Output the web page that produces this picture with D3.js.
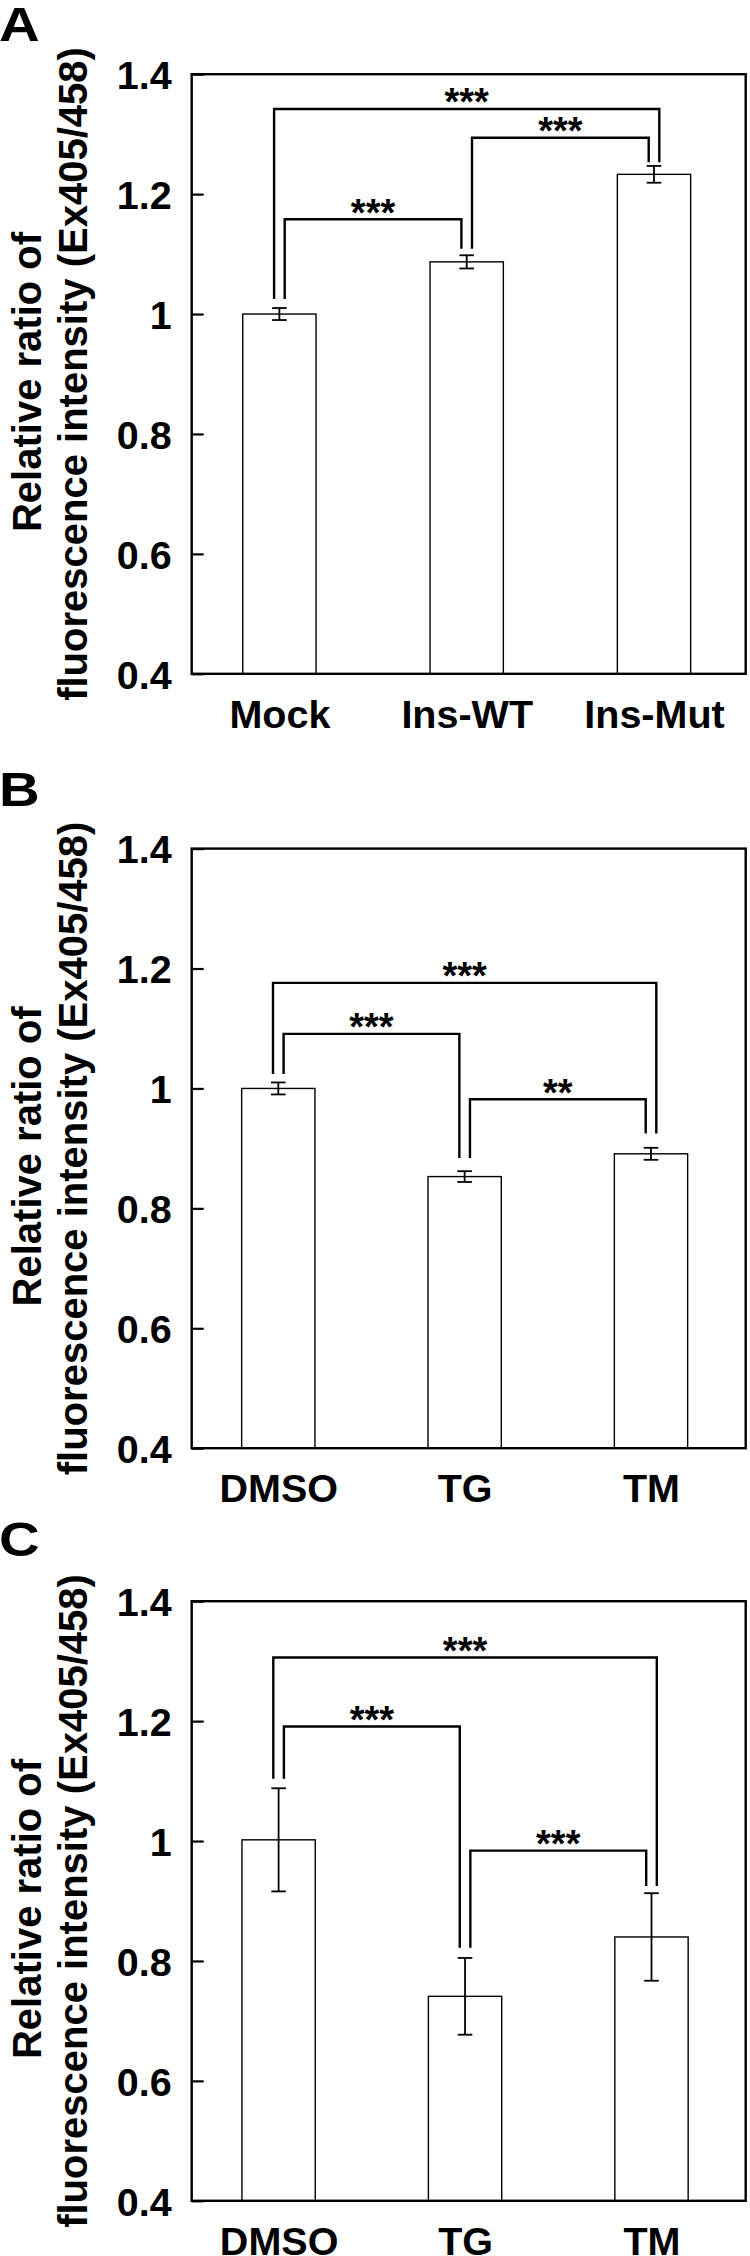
<!DOCTYPE html>
<html>
<head>
<meta charset="utf-8">
<script src="https://cdn.jsdelivr.net/npm/d3@7"></script>
<style>
  html, body { margin: 0; padding: 0; background: #fff; }
  svg { display: block; }
  text { font-family: "Liberation Sans", Arial, sans-serif; font-weight: bold; fill: #000; }
</style>
</head>
<body>
<script>
// ---------------- data ----------------
const panelLabels = ["A", "B", "C"];
const categoriesA = ["Mock", "Ins-WT", "Ins-Mut"];
const categoriesB = ["DMSO", "TG", "TM"];
const categoriesC = ["DMSO", "TG", "TM"];

const meansA = [1.000, 1.087, 1.233];
const errorsA = [0.010, 0.011, 0.014];
const meansB = [1.000, 0.853, 0.891];
const errorsB = [0.010, 0.009, 0.010];
const meansC = [1.002, 0.741, 0.840];
const errorsC = [0.086, 0.064, 0.073];

// significance brackets: [from, to, level (y value), label]
const bracketsA = [[0, 1, 1.158, "***"], [0, 2, 1.342, "***"], [1, 2, 1.294, "***"]];
const bracketsB = [[0, 1, 1.091, "***"], [0, 2, 1.176, "***"], [1, 2, 0.982, "**"]];
const bracketsC = [[0, 1, 1.191, "***"], [0, 2, 1.306, "***"], [1, 2, 0.984, "***"]];
// lower end of bracket legs above each bar (y value)
const legEndsA = [1.025, 1.109, 1.253];
const legEndsB = [1.024, 0.884, 0.925];
const legEndsC = [1.104, 0.822, 0.925];

const yTickValues = [0.4, 0.6, 0.8, 1.0, 1.2, 1.4];
const yTickLabels = ["0.4", "0.6", "0.8", "1", "1.2", "1.4"];
const yDomain = [0.4, 1.4];
const yTitleLines = ["Relative ratio of", "fluorescence intensity (Ex405/458)"];

// ---------------- layout ----------------
const W = 750, H = 2256;
const plotLeft = 191.7, plotRight = 745.7, plotH = 599.6;
const panels = [
  { label: panelLabels[0], cats: categoriesA, means: meansA, errs: errorsA, brackets: bracketsA, legEnds: legEndsA,
    top: 74.2, labelY: 41, xRange: [279.4, 654] },
  { label: panelLabels[1], cats: categoriesB, means: meansB, errs: errorsB, brackets: bracketsB, legEnds: legEndsB,
    top: 848.6, labelY: 806, xRange: [278.3, 651] },
  { label: panelLabels[2], cats: categoriesC, means: meansC, errs: errorsC, brackets: bracketsC, legEnds: legEndsC,
    top: 1601.2, labelY: 1556, xRange: [278.6, 651.5] }
];
const FS = 39.5;
const barW = 73.3, capW = 14.6, legOff = 5.3;

const svg = d3.select("body").append("svg")
  .attr("width", W).attr("height", H)
  .attr("viewBox", `0 0 ${W} ${H}`);
svg.append("rect").attr("width", W).attr("height", H).attr("fill", "#fff");

panels.forEach(p => {
  const bottom = p.top + plotH;
  const y = d3.scaleLinear().domain(yDomain).range([bottom, p.top]);
  const x = d3.scalePoint().domain(p.cats).range(p.xRange);
  const g = svg.append("g");

  // panel letter (slightly wide face, as in the figure)
  g.append("text")
    .attr("transform", `translate(-1,${p.labelY}) scale(1.15,1)`)
    .style("font-size", "49px").text(p.label);

  // y title (two lines, rotated)
  const cy = (p.top + bottom) / 2;
  [[41, 8], [87, 0]].forEach(([bx, shift], i) => {
    g.append("text")
      .attr("transform", `translate(${bx},${cy + shift}) rotate(-90)`)
      .attr("text-anchor", "middle")
      .style("font-size", "40px")
      .text(yTitleLines[i]);
  });

  // bars
  g.selectAll("rect.bar").data(p.means).join("rect")
    .attr("class", "bar")
    .attr("x", (d, i) => x(p.cats[i]) - barW / 2)
    .attr("width", barW)
    .attr("y", d => y(d))
    .attr("height", d => y(yDomain[0]) - y(d))
    .attr("fill", "#fff").attr("stroke", "#000").attr("stroke-width", 1.4);

  // error bars
  const eb = g.selectAll("g.err").data(p.means).join("g").attr("class", "err")
    .attr("stroke", "#000").attr("stroke-width", 1.8);
  eb.append("line")
    .attr("x1", (d, i) => x(p.cats[i])).attr("x2", (d, i) => x(p.cats[i]))
    .attr("y1", (d, i) => y(d - p.errs[i])).attr("y2", (d, i) => y(d + p.errs[i]));
  [-1, 1].forEach(s => {
    eb.append("line")
      .attr("x1", (d, i) => x(p.cats[i]) - capW / 2).attr("x2", (d, i) => x(p.cats[i]) + capW / 2)
      .attr("y1", (d, i) => y(d + s * p.errs[i])).attr("y2", (d, i) => y(d + s * p.errs[i]));
  });

  // brackets
  p.brackets.forEach(([a, b, lvl, lab]) => {
    const outer = (b - a) > 1;
    const xa = x(p.cats[a]) + (outer ? -legOff : legOff);
    const xb = x(p.cats[b]) + (outer ? legOff : -legOff);
    const path = d3.path();
    path.moveTo(xa, y(p.legEnds[a]));
    path.lineTo(xa, y(lvl));
    path.lineTo(xb, y(lvl));
    path.lineTo(xb, y(p.legEnds[b]));
    g.append("path").attr("d", path.toString())
      .attr("fill", "none").attr("stroke", "#000").attr("stroke-width", 2.4);
    g.append("text")
      .attr("x", (xa + xb) / 2).attr("y", y(lvl) + 6.5)
      .attr("text-anchor", "middle")
      .style("font-size", "38px")
      .text(lab);
  });

  // y axis
  const yAxis = d3.axisLeft(y).tickValues(yTickValues)
    .tickFormat((d, i) => yTickLabels[i]).tickSize(-12).tickPadding(20);
  const ya = g.append("g").attr("transform", `translate(${plotLeft},0)`).call(yAxis);
  ya.select(".domain").remove();
  ya.selectAll(".tick line").attr("stroke", "#000").attr("stroke-width", 2.2);
  ya.selectAll(".tick text").attr("dy", "0.36em")
    .style("font-size", FS + "px").style("font-family", "'Liberation Sans', Arial, sans-serif")
    .style("font-weight", "bold").attr("fill", "#000");

  // x axis labels
  const xAxis = d3.axisBottom(x).tickSize(0).tickPadding(26);
  const xa = g.append("g").attr("transform", `translate(0,${bottom})`).call(xAxis);
  xa.select(".domain").remove();
  xa.selectAll(".tick text")
    .style("font-size", FS + "px").style("font-family", "'Liberation Sans', Arial, sans-serif")
    .style("font-weight", "bold").attr("fill", "#000");

  // frame
  g.append("rect")
    .attr("x", plotLeft).attr("y", p.top)
    .attr("width", plotRight - plotLeft).attr("height", plotH)
    .attr("fill", "none").attr("stroke", "#000").attr("stroke-width", 2.4);
});
</script>
</body>
</html>
